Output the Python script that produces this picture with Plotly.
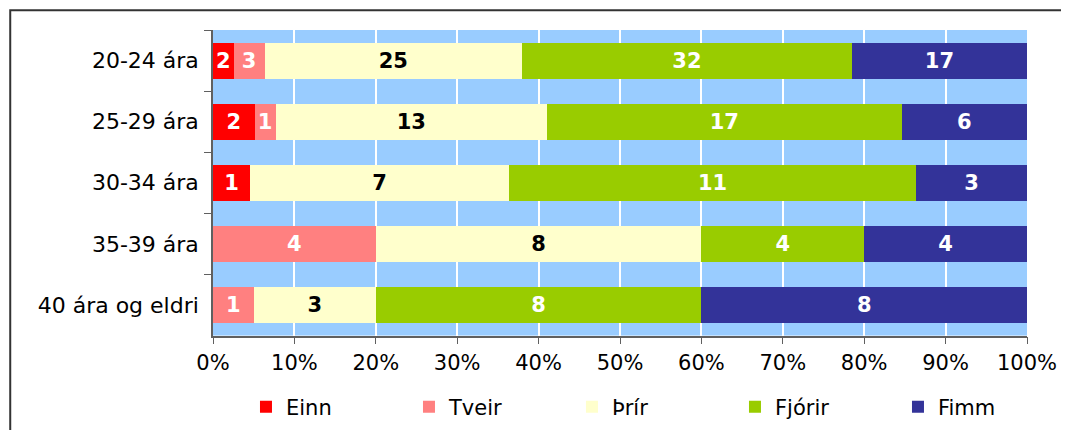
import plotly.graph_objects as go

aldur = ['20-24 ára', '25-29 ára', '30-34 ára', '35-39 ára', '40 ára og eldri']
einn = [2, 2, 1, 0, 0]
tveir = [3, 1, 0, 4, 1]
thrir = [25, 13, 7, 8, 3]
fjorir = [32, 17, 11, 4, 8]
fimm = [17, 6, 3, 4, 8]
x_ticks = [0, 10, 20, 30, 40, 50, 60, 70, 80, 90, 100]

series = [
    ('Einn', einn, '#FF0000', 'white'),
    ('Tveir', tveir, '#FF8080', 'white'),
    ('Þrír', thrir, '#FFFFCC', 'black'),
    ('Fjórir', fjorir, '#99CC00', 'white'),
    ('Fimm', fimm, '#333399', 'white'),
]

fig = go.Figure()

for name, vals, color, txtcolor in series:
    fig.add_trace(go.Bar(
        y=aldur,
        x=vals,
        name=name,
        orientation='h',
        marker=dict(color=color, line=dict(width=0)),
        text=[str(v) if v else '' for v in vals],
        textposition='inside',
        insidetextanchor='middle',
        textangle=0,
        textfont=dict(family='DejaVu Sans', size=21, color=txtcolor, weight='bold'),
        width=0.59,
    ))

# page body adds an 8px offset, so the figure is a bit smaller than the window
fig.update_layout(
    barmode='stack',
    barnorm='percent',
    width=1061,
    height=422,
    margin=dict(l=205, r=37, t=22, b=93),
    paper_bgcolor='white',
    plot_bgcolor='#99CCFF',
    font=dict(family='DejaVu Sans', size=21, color='black'),
    uniformtext=dict(minsize=21, mode='show'),
    xaxis=dict(
        range=[0, 100],
        tickvals=x_ticks,
        ticktext=[f'{t}%' for t in x_ticks],
        showgrid=True,
        gridcolor='white',
        gridwidth=2,
        showline=True,
        linecolor='#606060',
        linewidth=1.5,
        ticks='outside',
        ticklen=7,
        tickcolor='#606060',
        zeroline=False,
    ),
    yaxis=dict(
        autorange='reversed',
        showline=True,
        linecolor='#606060',
        linewidth=1.5,
        ticks='outside',
        ticklen=7,
        tickcolor='#606060',
        tickson='boundaries',
        showgrid=False,
        ticklabelstandoff=8,
        tickfont=dict(size=22),
    ),
    legend=dict(
        orientation='h',
        xref='container',
        yref='container',
        x=0.2243,
        xanchor='left',
        y=0.0545,
        yanchor='middle',
        entrywidth=118,
        traceorder='normal',
        font=dict(size=21),
    ),
    shapes=[dict(
        type='rect', xref='paper', yref='paper',
        x0=-0.2491, x1=1.2, y0=-0.5, y1=1.065,
        line=dict(color='#333333', width=2),
        fillcolor='rgba(0,0,0,0)',
        layer='below',
    )],
)

fig.write_html("out.html")
